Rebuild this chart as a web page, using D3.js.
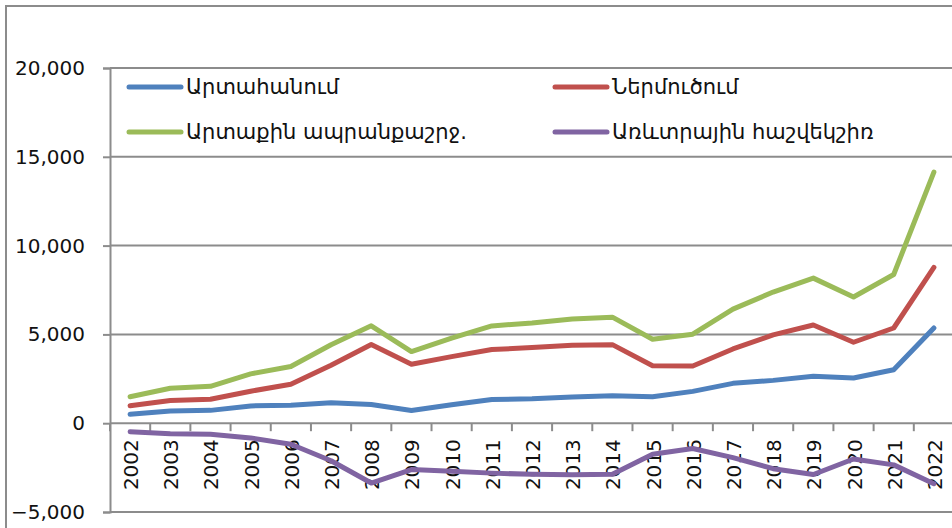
<!DOCTYPE html>
<html>
<head>
<meta charset="utf-8">
<script src="https://cdn.jsdelivr.net/npm/d3@7"></script>
<style>
  body { margin: 0; background: #fff; }
  svg { display: block; font-family: "DejaVu Sans", sans-serif; }
</style>
</head>
<body>
<svg id="chart" width="952" height="528"></svg>
<script>
// data, million USD
let years = ["2002","2003","2004","2005","2006","2007","2008","2009","2010","2011","2012",
             "2013","2014","2015","2016","2017","2018","2019","2020","2021","2022"]
let exports_ = [505, 686, 723, 974, 1004, 1152, 1057, 710, 1041, 1334, 1380,
                1479, 1547, 1487, 1792, 2243, 2411, 2641, 2544, 3013, 5362]
let imports_ = [987, 1279, 1351, 1802, 2192, 3268, 4426, 3321, 3749, 4145, 4261,
                4386, 4424, 3239, 3218, 4182, 4973, 5528, 4559, 5360, 8771]
let turnover = [1492, 1965, 2074, 2776, 3196, 4420, 5483, 4031, 4790, 5479, 5641,
                5865, 5971, 4726, 5010, 6425, 7384, 8169, 7103, 8373, 14133]
let balance = [-482, -593, -628, -828, -1188, -2116, -3369, -2611, -2708, -2811, -2881,
               -2907, -2877, -1752, -1426, -1939, -2562, -2887, -2015, -2347, -3409]
let yTicks = [-5000, 0, 5000, 10000, 15000, 20000]
let seriesNames = ["Արտահանում", "Ներմուծում", "Արտաքին ապրանքաշրջ.", "Առևտրային հաշվեկշիռ"]

let series = [
    {name: seriesNames[0], values: exports_, color: "#4f81bd"},
    {name: seriesNames[1], values: imports_, color: "#c0504d"},
    {name: seriesNames[2], values: turnover, color: "#9bbb59"},
    {name: seriesNames[3], values: balance, color: "#8064a2"}
]

let svg = d3.select("#chart")
let gridColor = "#8c8c8c"

// outer frame
svg.append("rect").attr("x", 6).attr("y", 6).attr("width", 960).attr("height", 540)
    .attr("fill", "none").attr("stroke", gridColor).attr("stroke-width", 2)

const x = d3.scaleBand().domain(years).range([110, 954])
const y = d3.scaleLinear().domain([-5000, 20000]).range([512, 68])

// gridlines
svg.append("g").selectAll("line")
    .data(yTicks.filter(d => d != 0))
    .join("line")
    .attr("x1", 110).attr("x2", 952)
    .attr("y1", d => y(d)).attr("y2", d => y(d))
    .attr("stroke", gridColor).attr("stroke-width", 2)

// y axis
let yAxis = svg.append("g")
    .attr("transform", "translate(110,0)")
    .call(d3.axisLeft(y).tickValues(yTicks).tickSize(7).tickPadding(18).tickFormat(d3.format(",")))
yAxis.select(".domain").attr("stroke", gridColor).attr("stroke-width", 2)
yAxis.selectAll(".tick line").attr("stroke", gridColor).attr("stroke-width", 2)
yAxis.selectAll(".tick text").attr("font-size", "20px").attr("fill", "#111")
    .attr("font-family", "DejaVu Sans")

// x axis at zero
let x0 = y(0)
svg.append("line").attr("x1", 110).attr("x2", 952).attr("y1", x0).attr("y2", x0)
    .attr("stroke", gridColor).attr("stroke-width", 2)
svg.append("g").selectAll("line")
    .data(years)
    .join("line")
    .attr("x1", d => x(d)).attr("x2", d => x(d))
    .attr("y1", x0).attr("y2", x0 + 8)
    .attr("stroke", gridColor).attr("stroke-width", 2)

svg.append("g").selectAll("text")
    .data(years)
    .join("text")
    .attr("transform", d => "translate(" + (x(d) + x.bandwidth() / 2 + 1) + "," + (x0 + 16) + ") rotate(-90)")
    .attr("text-anchor", "end")
    .attr("dominant-baseline", "central")
    .attr("font-size", "20px")
    .attr("fill", "#111")
    .text(d => d)

// lines
let line = d3.line()
    .x((d, i) => x(years[i]) + x.bandwidth() / 2)
    .y(d => y(d))

svg.append("g").selectAll("path")
    .data(series)
    .join("path")
    .attr("d", d => line(d.values))
    .attr("fill", "none")
    .attr("stroke", d => d.color)
    .attr("stroke-width", 5)
    .attr("stroke-linejoin", "round")
    .attr("stroke-linecap", "round")

// legend
let legendPos = [[127, 87], [553, 87], [127, 132], [553, 132]]
let legend = svg.append("g").selectAll("g")
    .data(series)
    .join("g")
    .attr("transform", (d, i) => "translate(" + legendPos[i][0] + "," + legendPos[i][1] + ")")
legend.append("line")
    .attr("x1", 2).attr("x2", 54).attr("y1", 0).attr("y2", 0)
    .attr("stroke", d => d.color).attr("stroke-width", 5).attr("stroke-linecap", "round")
legend.append("text")
    .attr("x", 59).attr("y", 0)
    .attr("dominant-baseline", "central")
    .attr("font-size", "21px")
    .attr("fill", "#111")
    .text(d => d.name)
</script>
</body>
</html>
